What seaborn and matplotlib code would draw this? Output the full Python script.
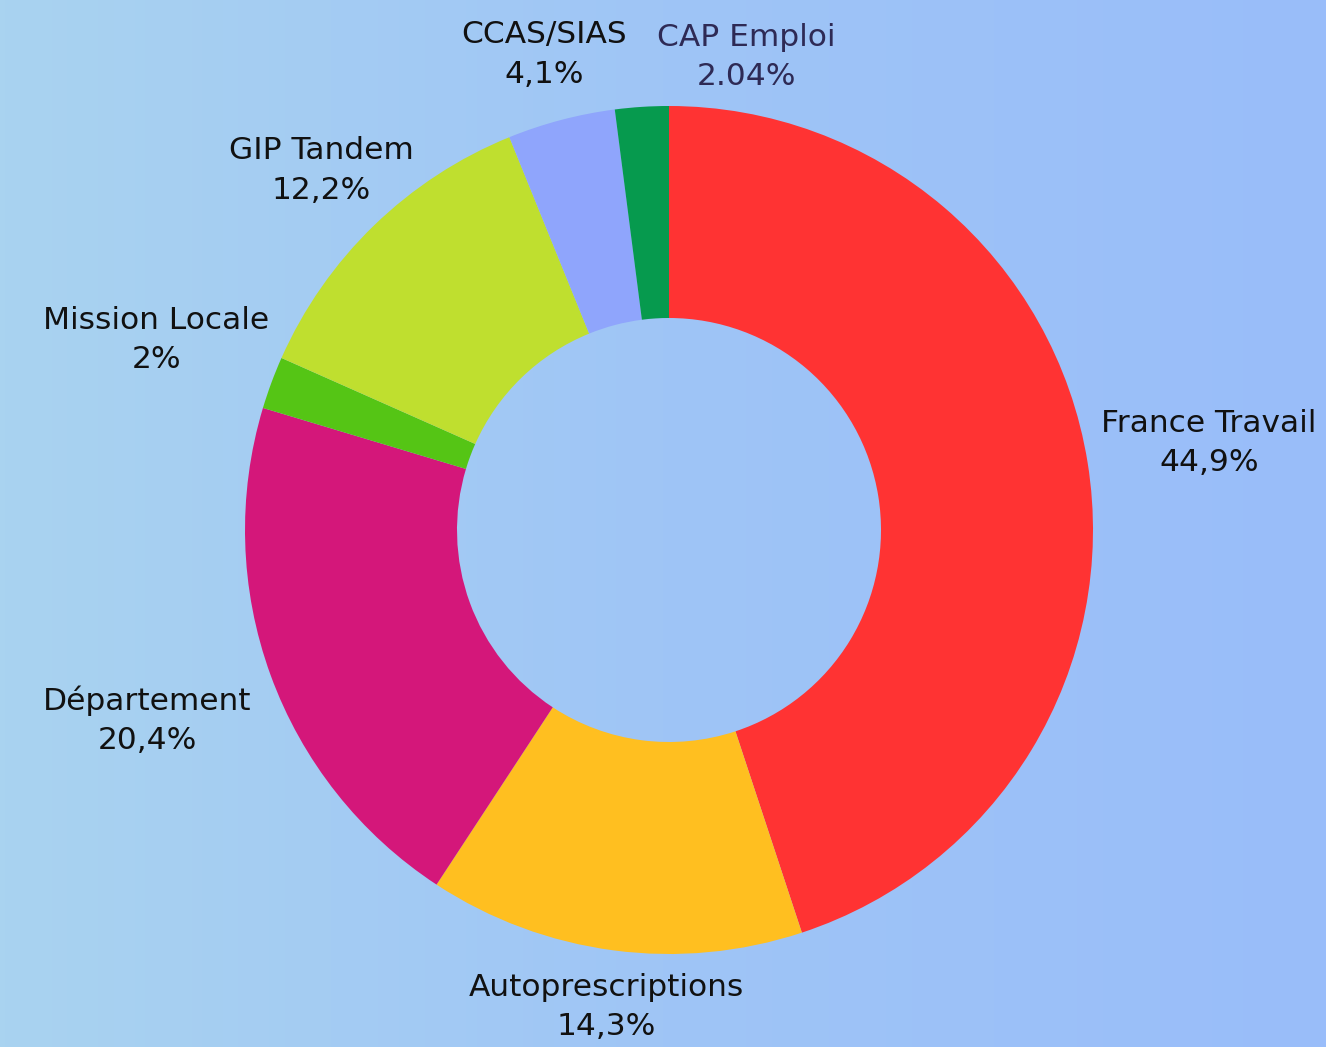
import numpy as np
import matplotlib
matplotlib.use("Agg")
import matplotlib.pyplot as plt
import seaborn as sns
from matplotlib.colors import LinearSegmentedColormap

# données
labels = ["France Travail", "Autoprescriptions", "Département", "Mission Locale",
          "GIP Tandem", "CCAS/SIAS", "CAP Emploi"]
values = [44.9, 14.3, 20.4, 2.0, 12.2, 4.1, 2.04]
pct_text = ["44,9%", "14,3%", "20,4%", "2%", "12,2%", "4,1%", "2.04%"]
colors = ["#ff3333", "#ffbf20", "#d4177a", "#55c515", "#bfdf2f", "#8fa5fc", "#069a4e"]
text_colors = ["#111111"] * 6 + ["#2e2a55"]
# distance des étiquettes (en rayons) et décalage angulaire (degrés)
label_dist = [1.29, 1.135, 1.31, 1.29, 1.18, 1.16, 1.13]
label_shift = [0, 0, 0, 0, 0, 0, -13]

sns.set_theme(style="white")
plt.rcParams["font.family"] = ["DejaVu Sans"]

fig = plt.figure(figsize=(13.26, 10.47), dpi=100)

# fond dégradé
bg = fig.add_axes([0, 0, 1, 1])
cmap = LinearSegmentedColormap.from_list("bg", ["#a9d3f0", "#9fc5f6", "#99bdfa"])
bg.imshow(np.linspace(0, 1, 256).reshape(1, -1), aspect="auto", cmap=cmap,
          extent=[0, 1, 0, 1])
bg.set_axis_off()

ax = fig.add_axes([0, 0, 1, 1])
ax.patch.set_alpha(0)
wedges, _ = ax.pie(values, colors=colors, startangle=90, counterclock=False,
                   radius=1, wedgeprops=dict(width=0.5, linewidth=0))

for w, name, pct, d, s, tc in zip(wedges, labels, pct_text, label_dist, label_shift, text_colors):
    ang = np.deg2rad((w.theta1 + w.theta2) / 2 + s)
    x, y = d * np.cos(ang), d * np.sin(ang)
    ax.text(x, y, f"{name}\n{pct}", ha="center", va="center", fontsize=22.5,
            color=tc, linespacing=1.45)

ax.set_xlim(-669 / 424, (1326 - 669) / 424)
ax.set_ylim(-(1047 - 530) / 424, 530 / 424)
ax.set_aspect("equal")
ax.set_axis_off()

fig.savefig("out.png", dpi=100)
